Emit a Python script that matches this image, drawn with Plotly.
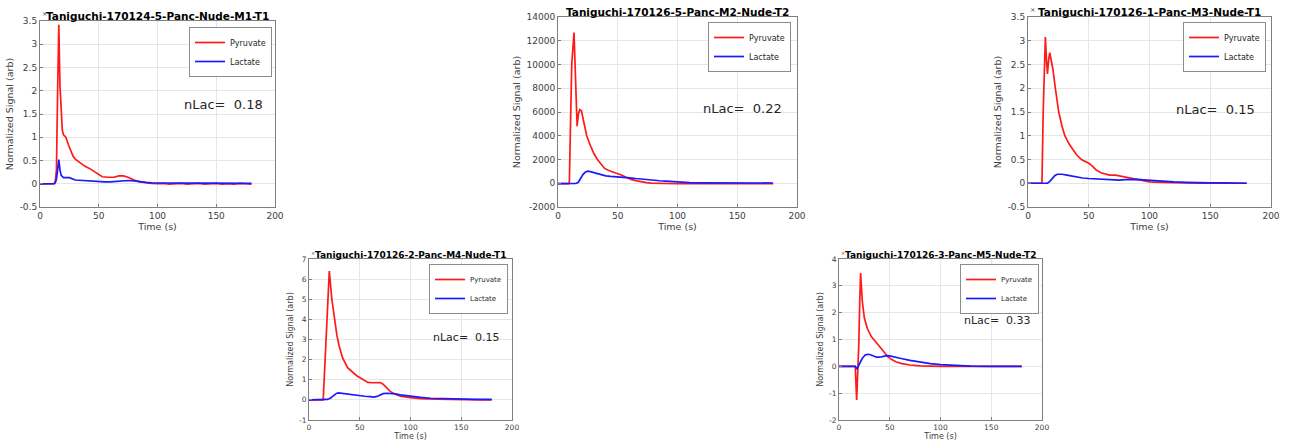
import plotly.graph_objects as go

# ---------------- data ----------------
titles = ["Taniguchi-170124-5-Panc-Nude-M1-T1",
          "Taniguchi-170126-5-Panc-M2-Nude-T2",
          "Taniguchi-170126-1-Panc-M3-Nude-T1",
          "Taniguchi-170126-2-Panc-M4-Nude-T1",
          "Taniguchi-170126-3-Panc-M5-Nude-T2"]
nlac = ["0.18", "0.22", "0.15", "0.15", "0.33"]
series_names = ["Pyruvate", "Lactate"]

# M1
tp1 = [0,2,4,6,8,10,12,13,14,15,16,17,18,19,20,22,24,26,28,30,34,38,42,46,50,53,58,63,67,71,75,80,85,90,95,100,
       105,110,115,120,125,130,135,140,145,150,155,160,165,170,175,180]
pyr1 = [-0.01,-0.01,-0.01,-0.01,-0.01,-0.01,0.0,0.05,0.3,2.0,3.42,2.1,1.5,1.15,1.05,1.0,0.85,0.7,0.6,0.53,
        0.45,0.38,0.33,0.27,0.2,0.15,0.14,0.14,0.17,0.17,0.14,0.08,0.04,0.02,0.01,0.0,
        0.01,-0.01,0.0,0.01,-0.01,0.0,0.01,-0.01,0.0,0.01,-0.01,0.0,-0.01,0.01,0.0,-0.01]
tl1 = [0,4,8,12,13,14,15,16,17,18,20,25,30,35,40,45,50,55,60,65,70,75,80,85,90,95,100,110,120,130,140,150,160,170,180]
lac1 = [0.0,0.0,0.0,0.0,0.02,0.1,0.3,0.52,0.3,0.18,0.13,0.13,0.08,0.07,0.07,0.06,0.05,0.04,0.04,0.05,0.07,0.07,
        0.06,0.04,0.03,0.02,0.02,0.01,0.02,0.01,0.02,0.01,0.01,0.01,0.01]

# M2
tp2 = [0,5,9,9.5,11.5,13.4,14.5,16,17,18.2,19.6,22,24,27,30,33,36,39,43,47,50,53,57,61,66,70,74,78,83,90,
       100,110,120,130,140,150,160,170,180]
pyr2 = [-30,-30,-30,100,10000,12700,9000,4800,5800,6200,6100,4800,4000,3200,2500,2000,1600,1250,1050,900,850,
        700,500,330,200,110,50,10,-10,-30,-40,-40,-40,-40,-40,-40,-40,-40,-40]
tl2 = [0,5,10,15,17,19,21,23,25,27,30,33,36,40,44,48,52,56,60,65,70,75,80,85,90,95,100,110,120,130,140,150,160,170,180]
lac2 = [-30,-30,-30,-20,80,400,750,950,1020,980,900,820,720,620,580,560,560,520,460,400,340,300,250,210,180,140,100,
        60,40,30,30,20,20,20,20]

# M3
tp3 = [0,5,10,11.5,12.5,14.3,15.2,16,17,17.9,19,20.5,22.5,25.3,28,30.3,34,37,40,44,47,50,53,56,60,64,67,72,76,82,
       90,100,110,120,130,140,150,160,170,180]
pyr3 = [0,0,0,0,1.5,3.08,2.6,2.3,2.6,2.75,2.6,2.4,2.0,1.5,1.2,1.0,0.82,0.7,0.6,0.5,0.46,0.42,0.36,0.28,0.22,0.19,
        0.17,0.17,0.15,0.12,0.07,0.03,0.02,0.01,0.01,0.0,0.0,0.0,0.0,0.0]
tl3 = [0,5,10,15,16,18,20,22,24,26,28,32,36,40,45,50,55,60,65,70,75,80,85,90,95,100,110,120,130,140,150,160,170,180]
lac3 = [0,0,0,0,0.0,0.04,0.1,0.16,0.19,0.19,0.19,0.17,0.15,0.13,0.11,0.1,0.09,0.08,0.07,0.06,0.065,0.075,0.08,0.08,
        0.07,0.06,0.04,0.03,0.02,0.01,0.01,0.01,0.0,0.0]

# M4
tp4 = [0,5,10,14,17,20,22.5,25,27.5,29.6,33,38,43,47,52,58,63,70,73,76,80,85,90,100,110,125,140,150,160,170,180]
pyr4 = [0,0,0,0,3.2,6.4,5.0,4.0,3.2,2.7,2.1,1.6,1.35,1.2,1.05,0.87,0.85,0.86,0.78,0.62,0.42,0.28,0.19,0.11,0.06,
        0.03,0.01,0.0,0.0,0.0,0.0]
tl4 = [0,5,10,15,18,21,24,27,29,32,36,40,45,50,55,60,64,67,70,73,77,81,85,90,95,100,110,120,135,150,165,180]
lac4 = [0,0,0,0,0.02,0.08,0.2,0.32,0.35,0.33,0.29,0.26,0.21,0.19,0.18,0.16,0.14,0.17,0.25,0.31,0.33,0.32,0.3,0.25,
        0.21,0.18,0.12,0.08,0.05,0.03,0.02,0.02]

# M5
tp5 = [0,5,10,15,16,17.4,18.5,19.5,20.5,21.3,22,23,25,28,32,35,38,40,44,48,52,56,62,70,80,90,100,110,120,130,
       140,150,160,170,180]
pyr5 = [0,0,0,0,0,-1.25,-0.4,0.8,2.5,3.48,3.0,2.4,1.8,1.4,1.1,0.95,0.82,0.74,0.55,0.36,0.25,0.17,0.1,0.05,0.02,
        0.0,0.0,0.0,0.0,0.0,0,0,0,0,0]
tl5 = [0,5,10,15,16,17.5,19,21,23,26,29,31,34,37,40,44,47,50,55,60,70,80,90,100,115,130,150,180]
lac5 = [0,0,0,0,0,-0.1,0.0,0.15,0.3,0.43,0.45,0.43,0.38,0.34,0.34,0.38,0.4,0.39,0.34,0.3,0.22,0.15,0.1,0.06,0.03,
        0.01,0.0,0.0]

x_ticks = [0, 50, 100, 150, 200]
y_ticks_a = [-0.5, 0, 0.5, 1, 1.5, 2, 2.5, 3, 3.5]
y_labels_a = ["-0.5", "0", "0.5", "1", "1.5", "2", "2.5", "3", "3.5"]
y_ticks_b = [-2000, 0, 2000, 4000, 6000, 8000, 10000, 12000, 14000]
y_labels_b = ["-2000", "0", "2000", "4000", "6000", "8000", "10000", "12000", "14000"]
y_ticks_c = [-1, 0, 1, 2, 3, 4, 5, 6, 7]
y_labels_c = ["-1", "0", "1", "2", "3", "4", "5", "6", "7"]
y_ticks_d = [-2, -1, 0, 1, 2, 3, 4]
y_labels_d = ["-2", "-1", "0", "1", "2", "3", "4"]

# ---------------- layout config ----------------
W, H = 1291, 444
FONT = "DejaVu Sans"
panels = [
    dict(tp=tp1, pyr=pyr1, tl=tl1, lac=lac1, yt=y_ticks_a, yl=y_labels_a, yr=[-0.5, 3.5],
         box=(40, 275, 21, 207), leg=(272, 27), txt=(121, 1.7), big=True, exp=True),
    dict(tp=tp2, pyr=pyr2, tl=tl2, lac=lac2, yt=y_ticks_b, yl=y_labels_b, yr=[-2000, 14000],
         box=(558, 797, 17, 207), leg=(791, 22), txt=(120, 6300), big=True, exp=False),
    dict(tp=tp3, pyr=pyr3, tl=tl3, lac=lac3, yt=y_ticks_a, yl=y_labels_a, yr=[-0.5, 3.5],
         box=(1028, 1271, 17, 207), leg=(1266, 22), txt=(120, 1.55), big=True, exp=True),
    dict(tp=tp4, pyr=pyr4, tl=tl4, lac=lac4, yt=y_ticks_c, yl=y_labels_c, yr=[-1, 7],
         box=(309, 512, 259, 420), leg=(508, 264), txt=(120, 3.1), big=False, exp=True),
    dict(tp=tp5, pyr=pyr5, tl=tl5, lac=lac5, yt=y_ticks_d, yl=y_labels_d, yr=[-2, 4],
         box=(839, 1042, 259, 420), leg=(1039, 264), txt=(121, 1.72), big=False, exp=True),
]

fig = go.Figure()
layout = dict(width=W, height=H, margin=dict(l=0, r=0, t=0, b=0, autoexpand=False),
              paper_bgcolor="white", plot_bgcolor="white",
              font=dict(family=FONT, color="#262626"), annotations=[])
axis_col = "#7f7f7f"

for i, p in enumerate(panels):
    n = i + 1
    sx = "" if n == 1 else str(n)
    x0, x1, y0, y1 = p["box"]
    tick_fs = 9 if p["big"] else 7.5
    leg_fs = 8 if p["big"] else 7
    title_fs = 10.5 if p["big"] else 9
    txt_fs = 13 if p["big"] else 11
    lname = "legend" + sx

    fig.add_trace(go.Scatter(x=p["tp"], y=p["pyr"], mode="lines", name=series_names[0],
                             line=dict(color="#ff1a1a", width=1.7), xaxis="x" + sx, yaxis="y" + sx,
                             legend=lname))
    fig.add_trace(go.Scatter(x=p["tl"], y=p["lac"], mode="lines", name=series_names[1],
                             line=dict(color="#1a1aff", width=1.7), xaxis="x" + sx, yaxis="y" + sx,
                             legend=lname))

    common = dict(showline=True, mirror=True, linecolor=axis_col, linewidth=1, automargin=False,
                  ticks="inside", ticklen=3, tickcolor=axis_col, showgrid=True,
                  gridcolor="#e6e6e6", zeroline=False, tickfont=dict(size=tick_fs, color="#404040"))
    layout["xaxis" + sx] = dict(common, domain=[x0 / W, x1 / W], anchor="y" + sx, range=[0, 200],
                                tickvals=x_ticks, ticktext=[str(v) for v in x_ticks],
                                title=dict(text="Time (s)", font=dict(size=tick_fs + 0.5, color="#404040"),
                                           standoff=1))
    layout["yaxis" + sx] = dict(common, domain=[1 - y1 / H, 1 - y0 / H], anchor="x" + sx, range=p["yr"],
                                tickvals=p["yt"], ticktext=p["yl"],
                                title=dict(text="Normalized Signal (arb)",
                                           font=dict(size=tick_fs + 0.5, color="#404040"), standoff=4))
    layout[lname] = dict(x=p["leg"][0] / W, y=1 - p["leg"][1] / H, xanchor="right", yanchor="top",
                         bgcolor="white", bordercolor="#8c8c8c", borderwidth=1,
                         font=dict(size=leg_fs, color="#262626"), itemwidth=30,
                         tracegroupgap=0)
    if p["exp"]:
        layout["annotations"].append(dict(text="×", xref="x" + sx + " domain", yref="y" + sx + " domain",
                                          x=0, y=1, xanchor="left", yanchor="bottom", showarrow=False,
                                          font=dict(size=tick_fs - 2.5, color="#404040"), yshift=1, xshift=0))
    layout["annotations"].append(dict(text="<b>" + titles[i] + "</b>", xref="x" + sx + " domain",
                                      yref="y" + sx + " domain", x=0.5, y=1, xanchor="center",
                                      yanchor="bottom", showarrow=False, yshift=-3,
                                      font=dict(size=title_fs, color="black", family=FONT)))
    layout["annotations"].append(dict(text="nLac=\u00a0\u00a0" + nlac[i], xref="x" + sx, yref="y" + sx,
                                      x=p["txt"][0], y=p["txt"][1], xanchor="left", yanchor="middle",
                                      showarrow=False, font=dict(size=txt_fs, color="#262626")))

fig.update_layout(**layout)
fig.write_html("out.html", config={"displayModeBar": False},
               post_script="document.body.style.margin='0';document.body.style.overflow='hidden';")
